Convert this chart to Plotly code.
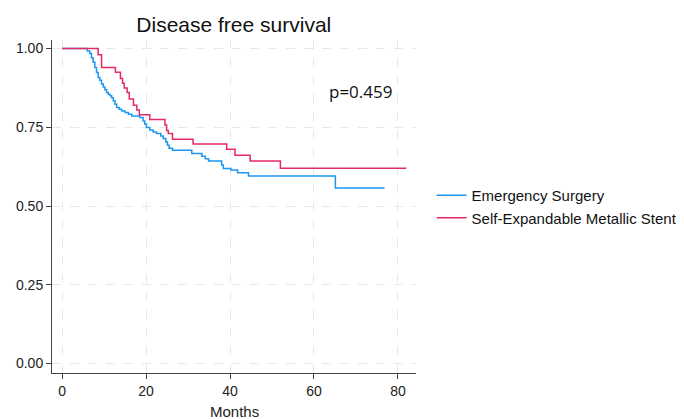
import plotly.graph_objects as go

# Emergency Surgery (blue) - Kaplan-Meier steps
es_time = [0, 6.0, 6.6, 7.0, 7.4, 7.8, 8.2, 8.6, 9.0, 9.4, 9.8, 10.2, 10.6, 11.0, 11.4, 11.8,
           12.2, 12.6, 13.0, 13.6, 14.2, 15.0, 15.8, 16.6, 18.5, 19.3, 19.7, 20.1, 20.9, 21.7,
           22.5, 23.5, 24.1, 24.7, 25.1, 25.5, 26.3, 30.9, 33.3, 34.1, 34.9, 38.0, 38.4, 40.2,
           41.8, 44.4, 65.1, 76.8]
es_surv = [1.0, 0.992, 0.984, 0.971, 0.956, 0.94, 0.924, 0.908, 0.899, 0.887, 0.878, 0.869, 0.86,
           0.855, 0.85, 0.844, 0.834, 0.823, 0.813, 0.807, 0.802, 0.797, 0.791, 0.786, 0.781, 0.77,
           0.76, 0.749, 0.741, 0.735, 0.73, 0.722, 0.714, 0.703, 0.693, 0.683, 0.677, 0.667, 0.658,
           0.65, 0.643, 0.63, 0.619, 0.614, 0.606, 0.595, 0.557, 0.557]

# Self-Expandable Metallic Stent (red)
sems_time = [0, 8.6, 9.4, 12.7, 13.9, 14.4, 14.8, 15.5, 16.0, 17.0, 17.8, 18.4, 20.9, 24.5, 24.9,
             25.3, 26.3, 31.2, 39.2, 41.2, 44.8, 52.0, 82.0]
sems_surv = [1.0, 0.98, 0.94, 0.925, 0.905, 0.89, 0.875, 0.86, 0.84, 0.82, 0.805, 0.79, 0.775,
             0.757, 0.74, 0.73, 0.712, 0.697, 0.68, 0.661, 0.643, 0.62, 0.62]

x_ticks = [0, 20, 40, 60, 80]
y_ticks = [0, 0.25, 0.5, 0.75, 1.0]
y_labels = ["0.00", "0.25", "0.50", "0.75", "1.00"]

font_family = "Liberation Sans, Arial, sans-serif"

fig = go.Figure()
fig.add_trace(go.Scatter(x=es_time, y=es_surv, mode="lines", line_shape="hv",
                         line=dict(color="#1b96f3", width=1.5), name="Emergency Surgery"))
fig.add_trace(go.Scatter(x=sems_time, y=sems_surv, mode="lines", line_shape="hv",
                         line=dict(color="#e52a64", width=1.5), name="Self-Expandable Metallic Stent"))

fig.add_annotation(x=71, y=0.864, text="p=0.459", showarrow=False,
                   font=dict(family="Open Sans, sans-serif", size=17, color="#111111"),
                   xref="x", yref="y")

fig.add_annotation(x=0.5, y=-0.115, xref="paper", yref="paper", text="Months",
                   showarrow=False, xanchor="center", yanchor="middle",
                   font=dict(family=font_family, size=15, color="#222222"))

axis_common = dict(showline=True, linecolor="#444444", linewidth=1, ticks="outside",
                   ticklen=5, tickcolor="#444444", showgrid=True, gridcolor="#e8e8e8",
                   griddash="dash", gridwidth=1, zeroline=False, mirror=False, automargin=False,
                   tickfont=dict(family=font_family, size=14, color="#222222"))

fig.update_layout(
    width=676, height=411,
    margin=dict(l=44, r=268, t=32, b=46, autoexpand=False),
    paper_bgcolor="white", plot_bgcolor="white",
    title=dict(text="Disease free survival", x=0.334, xanchor="center", y=0.9586, yanchor="middle",
               font=dict(family=font_family, size=21, color="#111111")),
    xaxis=dict(range=[-2.4, 84.3], tickvals=x_ticks, **axis_common),
    yaxis=dict(range=[-0.03, 1.027], tickvals=y_ticks, ticktext=y_labels, **axis_common),
    legend=dict(xref="container", yref="container", x=0.6266, xanchor="left", y=0.517,
                yanchor="middle",
                font=dict(family=font_family, size=15, color="#111111"),
                bgcolor="rgba(0,0,0,0)"),
    showlegend=True,
)

fig.write_html("out.html")
